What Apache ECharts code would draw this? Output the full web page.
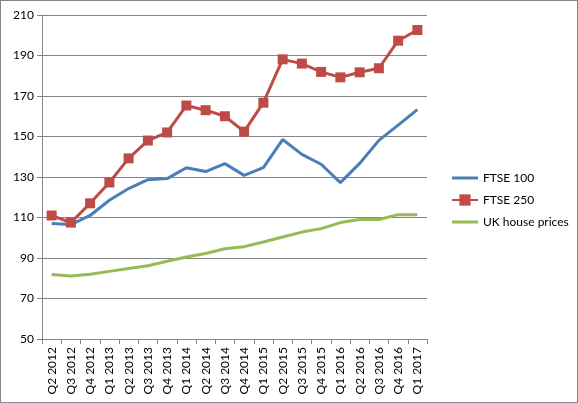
<!DOCTYPE html>
<html>
<head>
<meta charset="utf-8">
<script src="https://cdn.jsdelivr.net/npm/echarts@6/dist/echarts.min.js"></script>
<style>
  html, body { margin: 0; padding: 0; background: #fff; }
  #chart { width: 576px; height: 401px; border: 1px solid #868686; }
</style>
</head>
<body>
<div id="chart"></div>
<script>
// 数据
const quarters = ['Q2 2012', 'Q3 2012', 'Q4 2012', 'Q1 2013', 'Q2 2013', 'Q3 2013', 'Q4 2013',
    'Q1 2014', 'Q2 2014', 'Q3 2014', 'Q4 2014', 'Q1 2015', 'Q2 2015', 'Q3 2015', 'Q4 2015',
    'Q1 2016', 'Q2 2016', 'Q3 2016', 'Q4 2016', 'Q1 2017'];
const ftse100 = [107, 106.5, 111, 118.5, 124.3, 128.7, 129.2, 134.6, 132.7, 136.6, 130.8,
    134.6, 148.5, 141.2, 136.3, 127.2, 136.7, 148.1, 155.6, 163.3];
const ftse250 = [111, 107.5, 117, 127.3, 139.2, 148, 152, 165.3, 163, 160, 152.4,
    166.7, 188.1, 186, 181.9, 179.2, 181.7, 183.7, 197.3, 202.6];
const housePrices = [81.8, 81.1, 82, 83.4, 84.8, 86.2, 88.4, 90.5, 92.2, 94.6, 95.6,
    97.9, 100.4, 102.8, 104.5, 107.5, 109, 109, 111.4, 111.4];

const chart = echarts.init(document.querySelector('#chart'));
const font = 'Lato, Liberation Sans, sans-serif';

chart.setOption({
    animation: false,
    textStyle: { fontFamily: font },
    grid: {
        left: 41,
        right: 150,
        top: 14,
        bottom: 63
    },
    legend: {
        orient: 'vertical',
        left: 445,
        top: 166,
        itemGap: 10,
        itemWidth: 26,
        itemHeight: 14,
        textStyle: { fontSize: 12, color: '#000', fontFamily: font },
        data: [
            { name: 'FTSE 100', icon: 'path://M0,6 L26,6 L26,9 L0,9 Z' },
            { name: 'FTSE 250' },
            { name: 'UK house prices', icon: 'path://M0,6 L26,6 L26,9 L0,9 Z' }
        ]
    },
    xAxis: {
        type: 'category',
        data: quarters,
        boundaryGap: true,
        axisLine: { lineStyle: { color: '#868686', width: 1 } },
        axisTick: { show: true, interval: 0, length: 5, lineStyle: { color: '#868686' } },
        axisLabel: {
            interval: 0,
            rotate: 90,
            fontSize: 12,
            color: '#000',
            margin: 8
        }
    },
    yAxis: {
        type: 'value',
        min: 50,
        max: 210,
        interval: 20,
        axisLine: { show: true, lineStyle: { color: '#868686' } },
        axisTick: { show: true, length: 5, lineStyle: { color: '#868686' } },
        axisLabel: { fontSize: 12, color: '#000', margin: 8 },
        splitLine: { lineStyle: { color: '#868686', width: 1 } }
    },
    series: [
        {
            name: 'FTSE 100',
            type: 'line',
            data: ftse100,
            showSymbol: false,
            symbol: 'none',
            lineStyle: { width: 3, color: '#4a7ebb' },
            itemStyle: { color: '#4a7ebb' }
        },
        {
            name: 'FTSE 250',
            type: 'line',
            data: ftse250,
            symbol: 'rect',
            symbolSize: 10,
            lineStyle: { width: 3, color: '#be4b48' },
            itemStyle: { color: '#be4b48' }
        },
        {
            name: 'UK house prices',
            type: 'line',
            data: housePrices,
            symbol: 'none',
            lineStyle: { width: 3, color: '#98b954' },
            itemStyle: { color: '#98b954' }
        }
    ]
});
</script>
</body>
</html>
